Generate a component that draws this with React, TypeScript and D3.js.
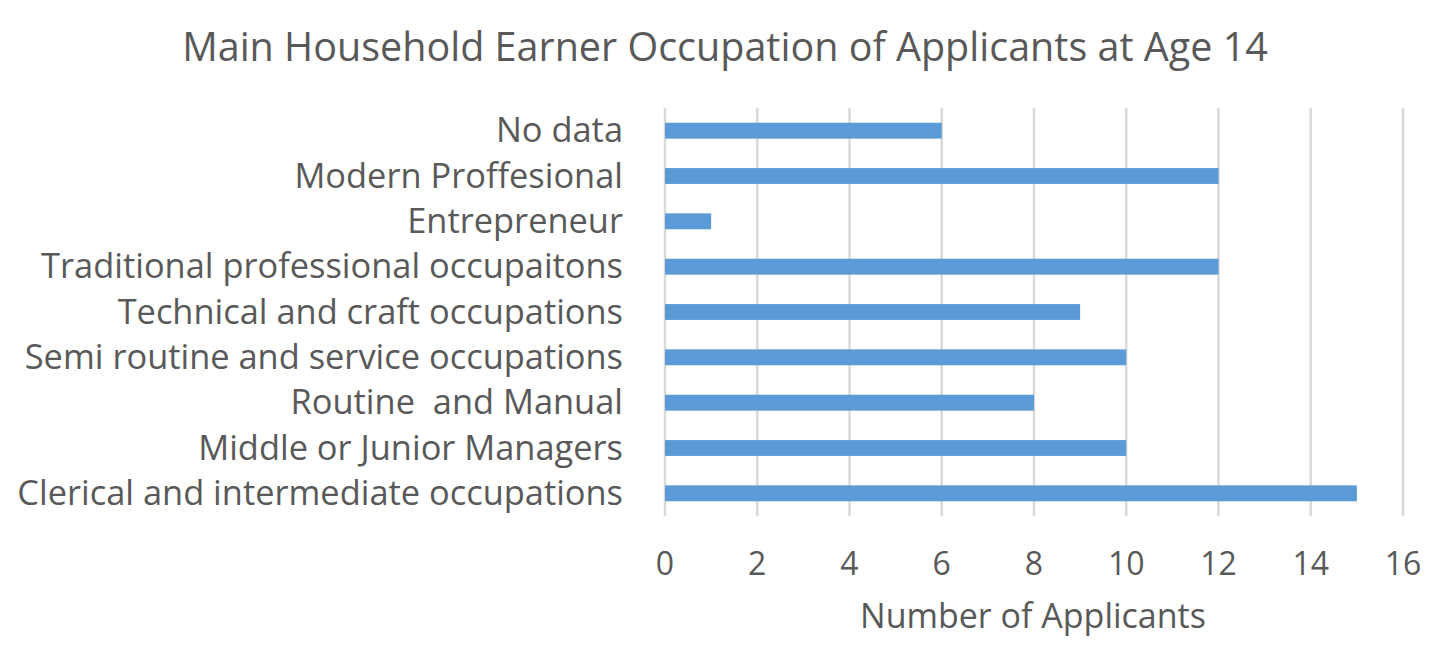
import React from "react";
import * as d3 from "d3";

const categories = [
  "No data",
  "Modern Proffesional",
  "Entrepreneur",
  "Traditional professional occupaitons",
  "Technical and craft occupations",
  "Semi routine and service occupations",
  "Routine  and Manual",
  "Middle or Junior Managers",
  "Clerical and intermediate occupations",
];
const values = [6, 12, 1, 12, 9, 10, 8, 10, 15];
const xTicks = [0, 2, 4, 6, 8, 10, 12, 14, 16];
const title = "Main Household Earner Occupation of Applicants at Age 14";
const xTitle = "Number of Applicants";

const W = 1446;
const H = 654;
const FONT = "'Open Sans', 'Noto Sans', sans-serif";
const TEXT = "#595959";

export default function App() {
  const x = d3.scaleLinear().domain([0, 16]).range([665, 1403]);
  const y = d3.scaleBand<string>().domain(categories).range([108, 516]).paddingInner(0.65).paddingOuter(0.325);
  const [y0, y1] = [108, 516];
  return (
    <svg width={W} height={H} style={{ position: "absolute", left: 0, top: 0, background: "#fff" }}>
      <rect width={W} height={H} fill="#fff" />
      <text x={725} y={61} textAnchor="middle" fontFamily={FONT} fontSize={39.5} fill={TEXT}>
        {title}
      </text>
      {xTicks.map((t) => (
        <line key={"g" + t} x1={x(t)} x2={x(t)} y1={y0} y2={y1} stroke="#d9d9d9" strokeWidth={2.5} />
      ))}
      {categories.map((c, i) => (
        <rect key={c} x={x(0)} y={y(c)!} width={x(values[i]) - x(0)} height={y.bandwidth()} fill="#5b9bd5" />
      ))}
      {categories.map((c) => (
        <text
          key={"l" + c}
          x={623}
          y={y(c)! + y.bandwidth() / 2 + 11.5}
          textAnchor="end"
          fontFamily={FONT}
          fontSize={34.4}
          fill={TEXT}
          style={{ whiteSpace: "pre" }}
        >
          {c}
        </text>
      ))}
      {xTicks.map((t) => (
        <text key={"t" + t} x={x(t)} y={575} textAnchor="middle" fontFamily={FONT} fontSize={32} fill={TEXT}>
          {t}
        </text>
      ))}
      <text x={1033} y={628} textAnchor="middle" fontFamily={FONT} fontSize={34} fill={TEXT}>
        {xTitle}
      </text>
    </svg>
  );
}
